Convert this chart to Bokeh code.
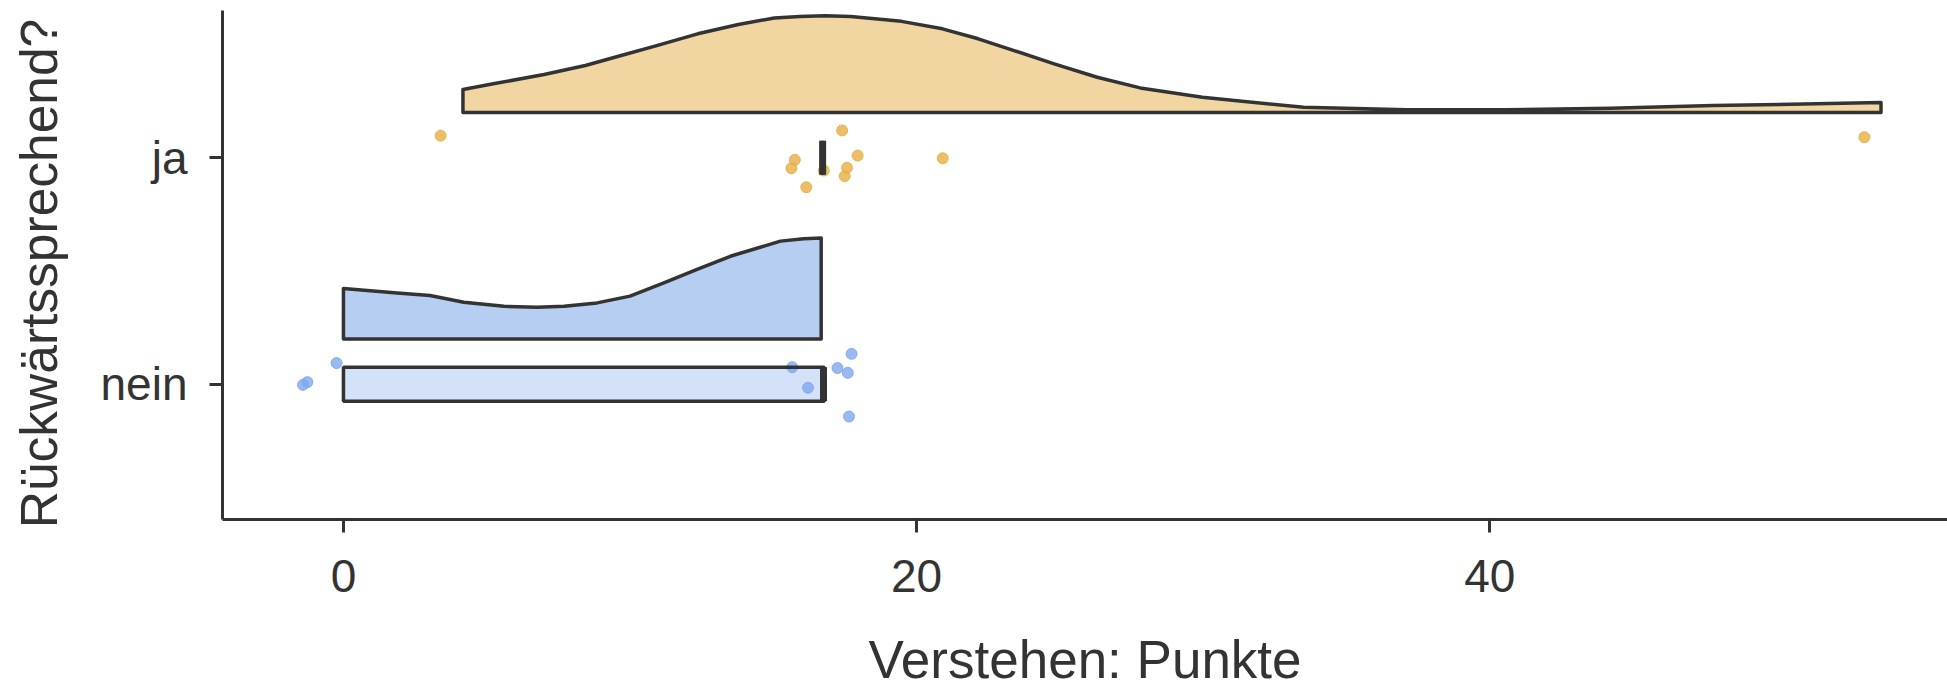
import math
from bokeh.plotting import figure
from bokeh.models import Range1d, FixedTicker
from bokeh.core.properties import value
from bokeh.embed import file_html
from bokeh.resources import INLINE

# ---- data -------------------------------------------------------------
groups = ["nein", "ja"]          # y positions 1 and 2
group_pos = [1, 2]

# half-violin outlines: x position and height of the density (y units)
ja_dens_x = [4.17, 5.23, 7.0, 8.44, 9.69, 10.93, 12.36, 13.78, 15.03, 15.92, 16.8,
             17.7, 19.47, 20.9, 22.15, 23.4, 24.8, 26.3, 27.8, 29.97, 33.5, 37.1,
             40.6, 44.2, 47.8, 53.65]
ja_dens_h = [0.102, 0.127, 0.168, 0.208, 0.252, 0.296, 0.348, 0.389, 0.418, 0.425, 0.428,
             0.425, 0.403, 0.37, 0.326, 0.274, 0.215, 0.156, 0.109, 0.068, 0.023, 0.012,
             0.013, 0.019, 0.031, 0.044]

nein_dens_x = [0.0, 1.87, 3.02, 4.2, 5.6, 6.76, 7.7, 8.85, 10.0, 11.18, 12.34,
               13.5, 15.25, 16.06, 16.67]
nein_dens_h = [0.223, 0.203, 0.192, 0.162, 0.144, 0.140, 0.144, 0.159, 0.189, 0.247,
               0.307, 0.365, 0.432, 0.442, 0.446]

# jittered raw observations (x value, y position)
ja_pts_x = [3.39, 15.63, 15.75, 16.15, 16.76, 17.40, 17.49, 17.57, 17.94, 20.91, 53.07]
ja_pts_y = [2.098, 1.954, 1.991, 1.870, 1.944, 2.121, 1.919, 1.956, 2.010, 1.998, 2.091]
nein_pts_x = [-1.41, -1.26, -0.24, 15.66, 16.21, 17.24, 17.60, 17.73, 17.64]
nein_pts_y = [0.997, 1.009, 1.093, 1.075, 0.984, 1.071, 1.050, 1.134, 0.857]

# box summaries: q1, median, q3
box_q1 = [0.0, 16.72]
box_med = [16.75, 16.72]
box_q3 = [16.78, 16.72]

x_ticks = [0, 20, 40]
x_title = "Verstehen: Punkte"
y_title = "Rückwärtssprechend?"

# ---- geometry ---------------------------------------------------------
W, H = 1947, 688
PANEL_L, PANEL_T, PANEL_B = 222, 10, 519      # panel edges in pixels
X0, X1 = -4.22, 55.97                         # panel data limits
Y0, Y1 = 0.402, 2.651
sx = (W - PANEL_L) / (X1 - X0)                # pixels per x unit
sy = (PANEL_B - PANEL_T) / (Y1 - Y0)          # pixels per y unit
# the drawing frame covers the whole canvas; axes are pinned to the panel
XR = (X0 - PANEL_L / sx, X1)
YR = (Y0 - (H - PANEL_B) / sy, Y1 + PANEL_T / sy)

# text glyphs set with an alphabetic baseline land this far past their
# anchor, so the anchors are pulled back by the same amount
BASELINE_SHIFT = 19

# ---- style ------------------------------------------------------------
DARK = "#333333"
FONT = "Liberation Sans"
ja_col, ja_fill = "#E8AE45", "#F2D6A1"
nein_col, nein_fill = "#7FA7ED", "#B6CEF2"
violin_offset = 0.2
box_half = 0.075

p = figure(width=W, height=H, output_backend="svg", toolbar_location=None,
           x_range=Range1d(*XR), y_range=Range1d(*YR),
           min_border_left=0, min_border_right=0, min_border_top=0,
           min_border_bottom=0)
p.outline_line_color = None
p.xgrid.visible = False
p.ygrid.visible = False
p.background_fill_color = "white"
p.border_fill_color = "white"

# half violins
for pos, dx, dh, fill in [(2, ja_dens_x, ja_dens_h, ja_fill),
                          (1, nein_dens_x, nein_dens_h, nein_fill)]:
    base = pos + violin_offset
    xs = list(dx) + [dx[-1], dx[0]]
    ys = [base + h for h in dh] + [base, base]
    p.patch(xs, ys, fill_color=fill, line_color=DARK, line_width=3.5,
            line_join="round")

# raw points
p.scatter(ja_pts_x, ja_pts_y, size=11, fill_color=ja_col, fill_alpha=0.8,
          line_color=ja_col, line_alpha=0.9, line_width=1)
p.scatter(nein_pts_x, nein_pts_y, size=11, fill_color=nein_col, fill_alpha=0.8,
          line_color=nein_col, line_alpha=0.9, line_width=1)

# boxes with median
box_fills = [nein_col, ja_col]
for i, pos in enumerate(group_pos):
    p.quad(left=[box_q1[i]], right=[box_q3[i]], bottom=[pos - box_half],
           top=[pos + box_half], fill_color=box_fills[i], fill_alpha=0.34,
           line_color=DARK, line_width=3.5)
    p.segment(x0=[box_med[i]], y0=[pos - box_half], x1=[box_med[i]],
              y1=[pos + box_half], line_color=DARK, line_width=7)

# axes
for ax in (p.xaxis[0], p.yaxis[0]):
    ax.axis_line_color = DARK
    ax.axis_line_width = 3
    ax.major_tick_line_color = DARK
    ax.major_tick_line_width = 3
    ax.major_tick_in = 0
    ax.major_tick_out = 13
    ax.minor_tick_line_color = None
    ax.major_label_text_font = FONT
    ax.major_label_text_font_size = "46px"
    ax.major_label_text_color = DARK

p.xaxis.fixed_location = Y0
p.xaxis.bounds = (X0, X1)
p.xaxis.ticker = FixedTicker(ticks=x_ticks)
p.xaxis.major_label_standoff = 27

p.yaxis.fixed_location = X0
p.yaxis.bounds = (Y0, Y1)
p.yaxis.ticker = FixedTicker(ticks=group_pos)
p.yaxis.major_label_overrides = {pos: g for pos, g in zip(group_pos, groups)}
p.yaxis.major_label_standoff = 22

# axis titles: x centred under the panel, y centred beside it
x_base_px = 678 - BASELINE_SHIFT          # baseline row of the x title
y_base_px = 57 - BASELINE_SHIFT           # baseline column of the y title
p.text(x=[(X0 + X1) / 2], y=[Y0 - (x_base_px - PANEL_B) / sy], text=[x_title],
       text_align="center", text_baseline="alphabetic", text_font=value(FONT),
       text_font_size="53px", text_color=DARK)
p.text(x=[X0 - (PANEL_L - y_base_px) / sx], y=[Y1 - (273 - PANEL_T) / sy],
       text=[y_title], angle=math.pi / 2, text_align="center",
       text_baseline="alphabetic", text_font=value(FONT),
       text_font_size="51.5px", text_color=DARK)

open("out.html", "w").write(file_html(p, INLINE))
